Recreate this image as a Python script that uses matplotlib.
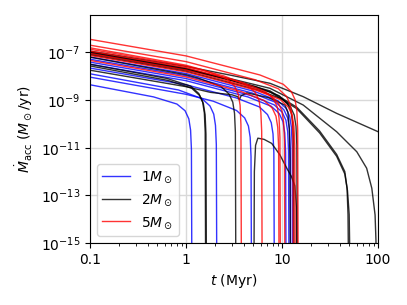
import numpy as np
import matplotlib
matplotlib.use("Agg")
import matplotlib.pyplot as plt
from matplotlib.ticker import FormatStrFormatter

# ---- data: time (Myr) and log10 accretion rate (Msun/yr) ----
t_1msun = [
    [0.1, 0.46, 0.805, 0.978, 1.07, 1.116, 1.139, 1.15],
    [0.1, 0.836, 1.463, 1.777, 1.944, 2.027, 2.069, 2.09],
    [0.1, 1.0, 1.92, 3.36, 4.08, 4.464, 4.656, 4.752, 4.8],
    [0.1, 1.0, 3.32, 5.81, 7.055, 7.719, 8.051, 8.217, 8.3],
    [0.1, 1.0, 5.16, 9.03, 10.965, 11.997, 12.513, 12.771, 12.9],
    [0.1, 1.0, 4.92, 8.61, 10.455, 11.439, 11.931, 12.177, 12.3],
    [0.1, 1.0, 4.72, 8.26, 10.03, 10.974, 11.446, 11.682, 11.8],
    [0.1, 1.0, 4.4, 7.7, 9.35, 10.23, 10.67, 10.89, 11.0],
]
logm_1msun = [
    [-8.36, -8.87, -9.17, -9.45, -9.79, -10.26, -11.07, -16],
    [-7.90, -8.58, -8.94, -9.25, -9.59, -10.06, -10.87, -16],
    [-8.04, -8.76, -9.05, -9.44, -9.75, -10.09, -10.56, -11.37, -16],
    [-7.66, -8.36, -8.91, -9.29, -9.61, -9.95, -10.42, -11.22, -16],
    [-7.20, -7.89, -8.64, -9.03, -9.34, -9.68, -10.15, -10.96, -16],
    [-7.29, -7.98, -8.71, -9.10, -9.41, -9.75, -10.22, -11.03, -16],
    [-7.41, -8.10, -8.81, -9.20, -9.51, -9.85, -10.32, -11.13, -16],
    [-7.50, -8.19, -8.87, -9.26, -9.57, -9.91, -10.38, -11.19, -16],
]

t_2msun = [
    [0.1, 0.64, 1.12, 1.36, 1.488, 1.552, 1.584, 1.6],
    [0.1, 0.652, 1.141, 1.386, 1.516, 1.581, 1.614, 1.63],
    [0.1, 1.0, 1.32, 2.31, 2.805, 3.069, 3.201, 3.267, 3.3],
    [0.1, 1.0, 1.8, 3.0, 3.45, 3.6, 3.75, 4.3, 7.2, 10.7, 11.5, 11.9, 12.1, 12.2],
    [5.1, 5.15, 5.3, 5.6, 6.5, 7.8, 9.5, 11.2, 12.5, 13.6, 14.1, 14.3],
    [0.1, 1.0, 5.32, 9.31, 11.305, 12.369, 12.901, 13.167, 13.3],
    [0.1, 1.0, 5.76, 10.08, 12.24, 13.392, 13.968, 14.256, 14.4],
    [0.1, 1.0, 3.0, 7.5, 16.6, 37.0, 100.0, 110.0],
    [0.1, 1.0, 3.0, 7.5, 16.6, 37.0, 60.0, 76.0, 86.0, 93.0, 95.0, 95.6],
    [0.1, 1.0, 3.0, 7.5, 14.2, 24.6, 37.0, 45.0, 47.5, 48.6, 49.2],
    [0.1, 1.0, 3.0, 7.5, 14.2, 24.6, 37.0, 45.0, 48.0, 50.0, 51.0],
]
logm_2msun = [
    [-7.50, -8.10, -8.42, -8.73, -9.07, -9.54, -10.35, -16],
    [-7.57, -8.18, -8.50, -8.81, -9.15, -9.62, -10.43, -16],
    [-7.20, -7.94, -8.07, -8.43, -8.75, -9.09, -9.56, -10.36, -16],
    [-7.75, -8.44, -8.68, -8.78, -8.86, -8.98, -8.82, -8.70, -8.90, -9.21, -9.5, -10.2, -11.5, -16],
    [-16, -12.0, -10.9, -10.6, -10.65, -10.82, -11.3, -11.86, -12.2, -12.6, -13.5, -16],
    [-6.98, -7.67, -8.44, -8.82, -9.13, -9.47, -9.94, -10.75, -16],
    [-7.10, -7.79, -8.59, -8.97, -9.29, -9.63, -10.10, -10.90, -16],
    [-6.95, -7.59, -7.97, -8.30, -8.86, -9.56, -10.33, -10.40],
    [-7.06, -7.74, -8.12, -8.51, -9.21, -10.33, -11.17, -11.86, -12.70, -13.82, -14.9, -16],
    [-6.99, -7.69, -8.16, -8.62, -9.30, -10.30, -11.28, -12.0, -12.7, -13.8, -16],
    [-7.02, -7.72, -8.19, -8.66, -9.36, -10.38, -11.36, -12.1, -12.8, -13.8, -16],
]

t_5msun = [
    [0.1, 1.0, 5.88, 10.29, 12.495, 13.671, 14.259, 14.553, 14.7],
    [0.1, 1.0, 1.508, 2.639, 3.2045, 3.506, 3.657, 3.732, 3.77],
    [0.1, 1.0, 2.48, 4.34, 5.27, 5.766, 6.014, 6.138, 6.2],
    [0.1, 1.0, 5.48, 9.59, 11.645, 12.741, 13.289, 13.563, 13.7],
    [0.1, 1.0, 3.72, 6.51, 7.905, 8.649, 9.021, 9.207, 9.3],
    [0.1, 1.0, 3.84, 6.72, 8.16, 8.928, 9.312, 9.504, 9.6],
    [0.1, 1.0, 4.28, 7.49, 9.095, 9.951, 10.379, 10.593, 10.7],
    [0.1, 1.0, 5.24, 9.17, 11.135, 12.183, 12.707, 12.969, 13.1],
]
logm_5msun = [
    [-6.455, -7.15, -7.95, -8.34, -8.65, -8.99, -9.46, -10.27, -16],
    [-6.81, -7.54, -7.74, -8.10, -8.42, -8.76, -9.22, -10.03, -16],
    [-6.87, -7.58, -7.99, -8.38, -8.69, -9.03, -9.50, -10.31, -16],
    [-7.13, -7.82, -8.60, -8.98, -9.30, -9.64, -10.10, -10.91, -16],
    [-7.34, -8.03, -8.64, -9.02, -9.34, -9.68, -10.15, -10.95, -16],
    [-6.95, -7.64, -8.26, -8.65, -8.96, -9.30, -9.77, -10.58, -16],
    [-7.05, -7.74, -8.41, -8.79, -9.11, -9.45, -9.92, -10.73, -16],
    [-6.70, -7.39, -8.15, -8.53, -8.85, -9.19, -9.65, -10.46, -16],
]

masses = ["1", "2", "5"]
colors = ["blue", "black", "red"]

# ---- figure ----
fig = plt.figure(figsize=(4.07, 3.05), dpi=100)
ax = fig.add_axes([0.221, 0.203, 0.708, 0.749])

groups = [(t_1msun, logm_1msun), (t_2msun, logm_2msun), (t_5msun, logm_5msun)]
for (tt, mm), mass, col in zip(groups, masses, colors):
    for i, (t, m) in enumerate(zip(tt, mm)):
        lab = r"$%s M_\odot$" % mass if i == 0 else None
        ax.plot(t, 10.0 ** np.array(m), color=col, lw=1.0, alpha=0.8, label=lab)

ax.set_xscale("log")
ax.set_yscale("log")
ax.set_xlim(0.1, 100)
ax.set_ylim(1e-15, 10 ** -5.42)
ax.xaxis.set_major_formatter(FormatStrFormatter("%g"))
ax.grid(True, which="major", color="0.85", lw=1.0)
ax.set_axisbelow(True)

ax.set_xlabel(r"$t$ (Myr)")
ax.set_ylabel(r"$\dot{M}_{\rm acc}$ ($M_\odot$/yr)")
ax.legend(loc="lower left")

fig.savefig("out.png", dpi=100)
